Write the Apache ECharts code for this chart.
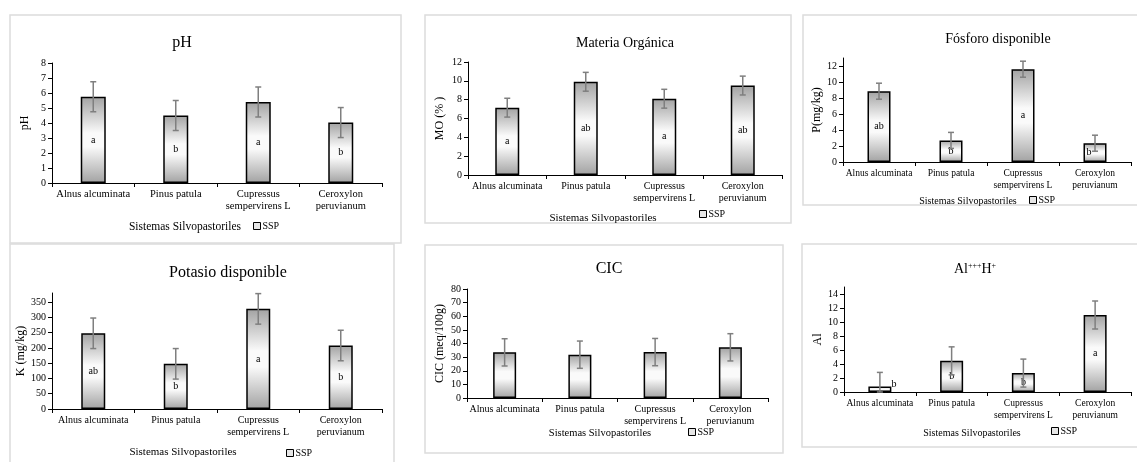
<!DOCTYPE html>
<html>
<head>
<meta charset="utf-8">
<script src="https://cdn.jsdelivr.net/npm/echarts@6/dist/echarts.min.js"></script>
<style>
html,body{margin:0;padding:0;background:#fff;}
#c{width:1137px;height:462px;}
</style>
</head>
<body>
<div id="c"></div>
<script>
// ---- data ----
const categories = ['Alnus alcuminata', 'Pinus patula', 'Cupressus\nsempervirens L', 'Ceroxylon\nperuvianum'];

const phValues = [5.75, 4.5, 5.4, 4.03];
const phErr = [1, 1, 1, 1];
const phLetters = ['a', 'b', 'a', 'b'];

const moValues = [7.15, 9.9, 8.1, 9.5];
const moErr = [1, 1, 1, 1];
const moLetters = ['a', 'ab', 'a', 'ab'];

const pValues = [8.85, 2.7, 11.6, 2.35];
const pErr = [1, 1, 1, 1];
const pLetters = ['ab', 'b', 'a', 'b'];

const kValues = [248, 148, 328, 208];
const kErr = [50, 50, 50, 50];
const kLetters = ['ab', 'b', 'a', 'b'];

const cicValues = [33.5, 31.8, 33.7, 37.2];
const cicErr = [10, 10, 10, 10];
const cicLetters = ['', '', '', ''];

const alValues = [0.8, 4.45, 2.7, 11];
const alErr = [2, 2, 2, 2];
const alLetters = ['b', 'b', 'b', 'a'];

const xAxisTitle = 'Sistemas Silvopastoriles';
const legendName = 'SSP';

// ---- layout / style ----
const FONT = "'Liberation Serif','Times New Roman',serif";
const panels = [
  { key: 'ph', title: 'pH', yName: 'pH', values: phValues, err: phErr, letters: phLetters,
    min: 0, max: 8, interval: 1,
    grid: { left: 52, top: 63, width: 330, height: 120 }, barWidth: 25, nameGap: 21,
    titlePos: [182, 43, 16], capPos: [185, 227, 11.5], legendPos: [253, 221], catFont: 10.5, border: [10, 15, 391, 228] },
  { key: 'mo', title: 'Materia Orgánica', yName: 'MO (% )', values: moValues, err: moErr, letters: moLetters,
    min: 0, max: 12, interval: 2,
    grid: { left: 468, top: 62, width: 314, height: 113 }, barWidth: 24, nameGap: 22,
    titlePos: [625, 43, 14], capPos: [603, 218, 11], legendPos: [699, 209], catFont: 10, border: [425, 15, 366, 208] },
  { key: 'p', title: 'Fósforo disponible', yName: 'P(mg/kg)', values: pValues, err: pErr, letters: pLetters,
    min: 0, max: 13, interval: 2,
    grid: { left: 843, top: 58, width: 288, height: 104 }, barWidth: 23, nameGap: 19,
    titlePos: [998, 39, 14], capPos: [968, 201, 10], legendPos: [1029, 195], catFont: 9.5, border: [803, 15, 345, 190] },
  { key: 'k', title: 'Potasio disponible', yName: 'K (mg/kg)', values: kValues, err: kErr, letters: kLetters,
    min: 0, max: 380, interval: 50,
    grid: { left: 52, top: 293, width: 330, height: 116 }, barWidth: 24, nameGap: 23,
    titlePos: [228, 273, 16], capPos: [183, 452, 11], legendPos: [286, 448], catFont: 10, border: [10, 244, 384, 230] },
  { key: 'cic', title: 'CIC', yName: 'CIC (meq/100g)', values: cicValues, err: cicErr, letters: cicLetters,
    min: 0, max: 80, interval: 10,
    grid: { left: 467, top: 289, width: 301, height: 109 }, barWidth: 23, nameGap: 21,
    titlePos: [609, 269, 16], capPos: [600, 433, 10.5], legendPos: [688, 427], catFont: 10, border: [425, 245, 358, 208] },
  { key: 'al', title: null, yName: 'Al', values: alValues, err: alErr, letters: alLetters,
    min: 0, max: 15, interval: 2,
    grid: { left: 844, top: 287, width: 287, height: 105 }, barWidth: 23, nameGap: 20,
    titlePos: [975, 269, 14], capPos: [972, 433, 10], legendPos: [1051, 426], catFont: 9.5, border: [802, 244, 345, 203] }
];

// label tweaks (placement only)
const labelTweaks = {
  al: { 0: { position: 'right', distance: 0, offset: [0, -5] } },
  p: { 3: { offset: [-6, 0] } }
};

const barFill = {
  type: 'linear', x: 0, y: 0, x2: 0, y2: 1,
  colorStops: [
    { offset: 0, color: '#a2a2a2' },
    { offset: 0.42, color: '#fafafa' },
    { offset: 0.58, color: '#fafafa' },
    { offset: 1, color: '#a2a2a2' }
  ]
};

const grids = [], xAxes = [], yAxes = [], series = [], legends = [], graphics = [];

panels.forEach((pn, i) => {
  grids.push(Object.assign({ containLabel: false }, pn.grid));
  xAxes.push({
    type: 'category', gridIndex: i, data: categories,
    axisLine: { lineStyle: { color: '#000', width: 1 } },
    axisTick: { show: true, length: 4, lineStyle: { color: '#000' } },
    axisLabel: { interval: 0, color: '#000', fontFamily: FONT, fontSize: pn.catFont, lineHeight: 12, margin: 5 },
    splitLine: { show: false }
  });
  yAxes.push({
    type: 'value', gridIndex: i, min: pn.min, max: pn.max, interval: pn.interval,
    name: pn.yName, nameLocation: 'middle', nameGap: pn.nameGap, nameRotate: 90,
    nameTextStyle: { color: '#000', fontFamily: FONT, fontSize: 12 },
    axisLine: { show: true, lineStyle: { color: '#000', width: 1 } },
    axisTick: { show: true, length: 4, lineStyle: { color: '#000' } },
    axisLabel: { color: '#000', fontFamily: FONT, fontSize: 10, margin: 6, showMaxLabel: (pn.max % pn.interval === 0) },
    splitLine: { show: false }
  });
  const tweaks = labelTweaks[pn.key] || {};
  series.push({
    type: 'bar', name: legendName, xAxisIndex: i, yAxisIndex: i,
    barWidth: pn.barWidth,
    data: pn.values.map((v, j) => {
      const item = { value: v };
      if (tweaks[j]) item.label = tweaks[j];
      return item;
    }),
    itemStyle: { color: barFill, borderColor: '#000', borderWidth: 1.5 },
    label: {
      show: true, position: 'inside', color: '#000', fontFamily: FONT, fontSize: 10,
      formatter: (p) => pn.letters[p.dataIndex]
    },
    z: 2
  });
  series.push({
    type: 'custom', name: 'err_' + pn.key, xAxisIndex: i, yAxisIndex: i,
    data: pn.values.map((v, j) => [j, v - pn.err[j], v + pn.err[j]]),
    renderItem: (params, api) => {
      const x = api.value(0);
      const lo = api.coord([x, Math.max(api.value(1), pn.min)]);
      const hi = api.coord([x, api.value(2)]);
      const cap = 3;
      const st = { stroke: '#7f7f7f', lineWidth: 1.5 };
      return {
        type: 'group', children: [
          { type: 'line', shape: { x1: hi[0], y1: hi[1], x2: lo[0], y2: lo[1] }, style: st },
          { type: 'line', shape: { x1: hi[0] - cap, y1: hi[1], x2: hi[0] + cap, y2: hi[1] }, style: st },
          { type: 'line', shape: { x1: lo[0] - cap, y1: lo[1], x2: lo[0] + cap, y2: lo[1] }, style: st }
        ]
      };
    },
    z: 5, silent: true
  });
  legends.push({
    data: [legendName], left: pn.legendPos[0], top: pn.legendPos[1], padding: 0,
    icon: 'rect', itemWidth: 7, itemHeight: 7, selectedMode: false,
    itemStyle: { color: '#e6e6e6', borderColor: '#000', borderWidth: 1 },
    textStyle: { color: '#000', fontFamily: FONT, fontSize: 10, padding: [0, 0, 0, -3] }
  });
  // border
  graphics.push({
    type: 'rect', shape: { x: pn.border[0], y: pn.border[1], width: pn.border[2], height: pn.border[3] },
    style: { fill: 'none', stroke: '#dcdcdc', lineWidth: 1.5 }, z: -10, silent: true
  });
  // title
  if (pn.title) {
    graphics.push({
      type: 'text', x: pn.titlePos[0], y: pn.titlePos[1], silent: true,
      style: { text: pn.title, fill: '#000', font: pn.titlePos[2] + 'px ' + FONT, align: 'center', verticalAlign: 'middle' }
    });
  } else {
    graphics.push({
      type: 'text', x: pn.titlePos[0], y: pn.titlePos[1], silent: true,
      style: {
        text: '{m|Al}{s|+++}{m|H}{s|+}', align: 'center', verticalAlign: 'middle', fill: '#000',
        rich: {
          m: { fontFamily: FONT, fontSize: pn.titlePos[2], fill: '#000', verticalAlign: 'bottom' },
          s: { fontFamily: FONT, fontSize: 8, fill: '#000', verticalAlign: 'top', padding: [0, 0, 6, 0] }
        }
      }
    });
  }
  // x caption
  graphics.push({
    type: 'text', x: pn.capPos[0], y: pn.capPos[1], silent: true,
    style: { text: xAxisTitle, fill: '#000', font: pn.capPos[2] + 'px ' + FONT, align: 'center', verticalAlign: 'middle' }
  });
});

const chart = echarts.init(document.getElementById('c'), null, { renderer: 'canvas' });
chart.setOption({
  backgroundColor: '#fff',
  animation: false,
  grid: grids,
  xAxis: xAxes,
  yAxis: yAxes,
  legend: legends,
  series: series,
  graphic: { elements: graphics }
});
</script>
</body>
</html>
